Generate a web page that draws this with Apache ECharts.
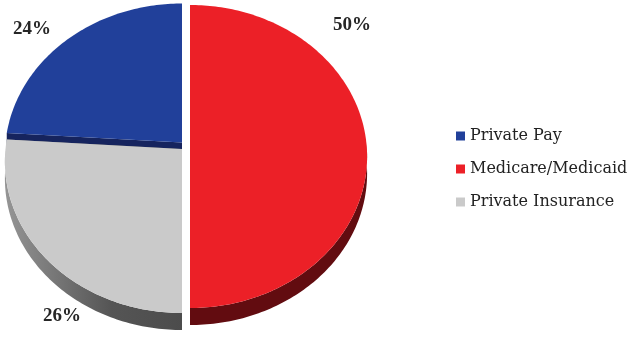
<!DOCTYPE html>
<html><head><meta charset="utf-8">
<script src="https://cdn.jsdelivr.net/npm/echarts@6/dist/echarts.min.js"></script>
<style>html,body{margin:0;padding:0;background:#fff}#c{width:629px;height:339px}</style>
</head><body><div id="c"></div>
<script>
// ---- data ----
const categories = ['Private Pay', 'Medicare/Medicaid', 'Private Insurance'];
const shares = [24, 50, 26];
const percentLabels = ['24%', '50%', '26%'];
const clockwiseOrder = [1, 2, 0]; // slices drawn clockwise from 12 o'clock

// ---- style ----
const topColors = ['#21409a', '#ec2027', '#cacaca'];
const sideColors = [
  '#16245e',
  '#620c10',
  {type:'linear', x:0, y:0, x2:1, y2:0, colorStops:[{offset:0,color:'#959595'},{offset:0.6,color:'#555555'},{offset:1,color:'#4c4c4c'}]}
];
const explode = [[-4, -1.5], [4, 0], [-4, 5]];
const labelAt = [[32, 29], [352, 25], [62, 316]];
const CX = 186, CY = 144, A = 176.5, B = 150.5, P = 0.0825, DEPTH = 17;

const total = shares.reduce((a, b) => a + b, 0);

function project(ox, oy, deg) {
  const ang = deg * Math.PI / 180;
  const u = Math.cos(ang), v = -Math.sin(ang);
  const w = 1 - P * v;
  return [ox + A * u / w, oy + B * v / w];
}

function makeRender(idx) {
  return function (params, api) {
    const value = api.value(0);
    let cum = 0;
    for (const k of clockwiseOrder) { if (k === idx) break; cum += shares[k]; }
    const startDeg = 90 - 360 * cum / total;
    const endDeg = startDeg - 360 * value / total;
    const ox = CX + explode[idx][0], oy = CY + explode[idx][1];
    const arc = [];
    const steps = Math.max(4, Math.ceil((startDeg - endDeg) / 1));
    for (let s = 0; s <= steps; s++) arc.push(project(ox, oy, startDeg + (endDeg - startDeg) * s / steps));
    const vertex = [ox, oy];
    const children = [];
    const front = [];
    for (let s = 0; s <= steps; s++) {
      const d = startDeg + (endDeg - startDeg) * s / steps;
      const sn = Math.sin(d * Math.PI / 180);
      if (sn <= 0.0001) front.push(arc[s]);
    }
    if (front.length > 1) {
      const band = front.concat(front.slice().reverse().map(p => [p[0], p[1] + DEPTH]));
      children.push({type:'polygon', z2: 1, shape:{points: band}, style:{fill: sideColors[idx]}});
    }
    [arc[0], arc[arc.length - 1]].forEach(e => {
      children.push({type:'polygon', z2: 1, shape:{points:[vertex, e, [e[0], e[1] + DEPTH], [vertex[0], vertex[1] + DEPTH]]}, style:{fill: sideColors[idx]}});
    });
    children.push({type:'polygon', z2: 10, shape:{points: [vertex].concat(arc)}, style:{fill: topColors[idx]}});
    children.push({type:'text', z2: 20, style:{text: percentLabels[idx], x: labelAt[idx][0], y: labelAt[idx][1], align:'center', verticalAlign:'middle', font:'bold 19px "Liberation Serif"', fill:'#262626'}});
    return {type:'group', children};
  };
}

const chart = echarts.init(document.getElementById('c'), null, {renderer:'canvas'});
chart.setOption({
  animation: false,
  backgroundColor: '#fff',
  legend: {
    data: categories, orient:'vertical', left: 456, top: 128, padding: 0, icon:'rect',
    itemWidth: 9, itemHeight: 9, itemGap: 17,
    textStyle: {fontFamily:'DejaVu Serif', fontSize: 16, color:'#222'}
  },
  series: categories.map((name, i) => ({
    type:'custom', name, coordinateSystem:'none', silent: true,
    color: topColors[i], itemStyle:{color: topColors[i]},
    data: [[shares[i]]],
    renderItem: makeRender(i)
  }))
});
</script></body></html>
